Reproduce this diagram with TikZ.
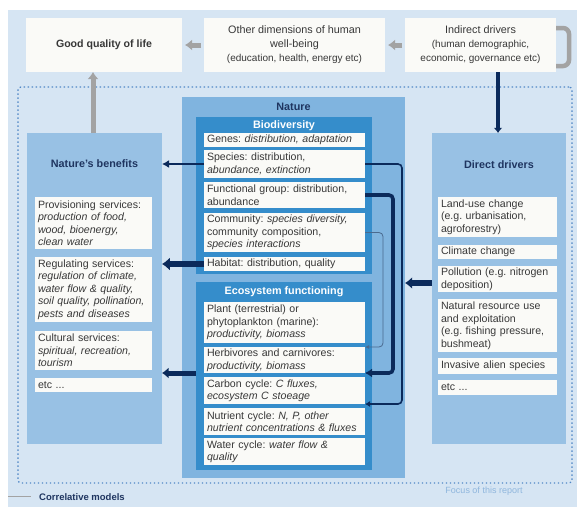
\documentclass[tikz,border=0pt]{standalone}
\usepackage{fontspec}
\setmainfont{Liberation Sans}
\usetikzlibrary{arrows.meta,calc}
\frenchspacing
\definecolor{bgc}{HTML}{D6E5F3}
\definecolor{panelc}{HTML}{98C1E4}
\definecolor{naturec}{HTML}{80B4DF}
\definecolor{innerc}{HTML}{358DCB}
\definecolor{boxw}{HTML}{FAFAF7}
\definecolor{navy}{HTML}{0B2A5B}
\definecolor{greyarr}{HTML}{A3A3A3}
\definecolor{txt}{HTML}{383838}
\definecolor{headc}{HTML}{1F3560}
\definecolor{dotc}{HTML}{4F86C6}
\definecolor{thinc}{HTML}{4A6A8F}
\definecolor{focusc}{HTML}{8FB6DD}
\newcommand\bxfont{\fontsize{10.6}{12.5}\selectfont}
\newcommand\hdfont{\fontsize{10.8}{13}\selectfont\bfseries}
\begin{document}
\begin{tikzpicture}[x=1pt,y=-1pt,
  panel/.style={anchor=north west, inner sep=0pt, outer sep=0pt, draw=none},
  wbox/.style={anchor=north west, fill=boxw, inner xsep=3pt, inner ysep=0pt, outer sep=0pt, align=left, font=\bxfont, text=txt},
  topbox/.style={anchor=north west, fill=boxw, inner sep=0pt, outer sep=0pt, align=center, text=txt},
  head/.style={font=\hdfont, text=headc, inner sep=0pt},
  whead/.style={font=\hdfont, text=white, inner sep=0pt},
  navyarr/.style={draw=navy, -{Latex[length=#1*1.3pt, width=#1*2.2pt]}, line width=#1*1pt},
  greyarr/.style={draw=greyarr, line width=5pt, -{Latex[length=7pt, width=11pt]}},
  link/.style={draw=navy, rounded corners=4pt, -{Latex[length=5pt, width=6pt]}},
]
\useasboundingbox (0,0) rectangle (577,507);
\fill[white] (0,0) rectangle (577,507);
\node[panel, fill=bgc, minimum width=569pt, minimum height=497pt] (bg) at (8,10) {};

% top row
\node[topbox, minimum width=156pt, minimum height=54pt, font=\fontsize{10.6}{13}\selectfont\bfseries] (good) at (26,18) {Good quality of life};
\node[topbox, minimum width=181pt, minimum height=54pt, font=\fontsize{10.8}{14}\selectfont] (other) at (204,18)
  {Other dimensions of human\\well-being\\{\fontsize{10}{14}\selectfont (education, health, energy etc)}};
\node[topbox, minimum width=151pt, minimum height=54pt, font=\fontsize{10.8}{14}\selectfont] (indirect) at (405,18)
  {Indirect drivers\\{\fontsize{10}{14}\selectfont (human demographic,}\\{\fontsize{10}{14}\selectfont economic, governance etc)}};

% dotted frame
\node[panel, draw=dotc, line width=1.2pt, dash pattern=on 1.4pt off 2.6pt, rounded corners=3pt,
  minimum width=554pt, minimum height=396pt] (frame) at (18,87) {};

% panels
\node[panel, fill=panelc, minimum width=135pt, minimum height=311pt] (benefits) at (27,133) {};
\node[panel, fill=panelc, minimum width=134pt, minimum height=311pt] (drivers) at (432,133) {};
\node[panel, fill=naturec, minimum width=223pt, minimum height=381pt] (nature) at (182,97) {};
\node[panel, fill=innerc, minimum width=176pt, minimum height=157pt] (biodiv) at (196,117) {};
\node[panel, fill=innerc, minimum width=176pt, minimum height=188pt] (eco) at (196,282) {};

% headings
\node[head] (hben) at (94.5,164) {Nature's benefits};
\node[head] (hdrv) at (499,165) {Direct drivers};
\node[head] (hnat) at (293.5,107) {Nature};
\node[whead] (hbio) at (284,126) {Biodiversity};
\node[whead] (heco) at (284,292) {Ecosystem functioning};

% benefits boxes
\node[wbox, text width=111pt, minimum height=52pt] (prov) at (35,197)
  {Provisioning services:\\\textit{production of food,}\\\textit{wood, bioenergy,}\\\textit{clean water}};
\node[wbox, text width=111pt, minimum height=65pt] (reg) at (35,257)
  {Regulating services:\\\textit{regulation of climate,}\\\textit{water flow \& quality,}\\\textit{soil quality, pollination,}\\\textit{pests and diseases}};
\node[wbox, text width=111pt, minimum height=39pt] (cult) at (35,331)
  {Cultural services:\\\textit{spiritual, recreation,}\\\textit{tourism}};
\node[wbox, text width=111pt, minimum height=14pt] (etcb) at (35,378) {etc ...};

% biodiversity boxes
\node[wbox, text width=155pt, minimum height=14pt] (genes) at (204,133) {Genes: \textit{distribution, adaptation}};
\node[wbox, text width=155pt, minimum height=28pt] (species) at (204,150) {Species: distribution,\\\textit{abundance, extinction}};
\node[wbox, text width=155pt, minimum height=26pt] (func) at (204,182) {Functional group: distribution,\\abundance};
\node[wbox, text width=155pt, minimum height=39pt] (comm) at (204,213) {Community: \textit{species diversity,}\\community composition,\\\textit{species interactions}};
\node[wbox, text width=155pt, minimum height=14pt] (habitat) at (204,257) {Habitat: distribution, quality};

% ecosystem boxes
\node[wbox, text width=155pt, minimum height=41pt] (plant) at (204,302) {Plant (terrestrial) or\\phytoplankton (marine):\\\textit{productivity, biomass}};
\node[wbox, text width=155pt, minimum height=26pt] (herb) at (204,347) {Herbivores and carnivores:\\\textit{productivity, biomass}};
\node[wbox, text width=155pt, minimum height=27pt] (carbon) at (204,377) {Carbon cycle: \textit{C fluxes,}\\\textit{ecosystem C stoeage}};
\node[wbox, text width=155pt, minimum height=27pt] (nutr) at (204,408) {Nutrient cycle: \textit{N, P, other}\\\textit{nutrient concentrations \& fluxes}};
\node[wbox, text width=155pt, minimum height=27pt] (water) at (204,438) {Water cycle: \textit{water flow \&}\\\textit{quality}};

% drivers boxes
\node[wbox, text width=113pt, minimum height=40pt] (land) at (438,197) {Land-use change\\(e.g. urbanisation,\\agroforestry)};
\node[wbox, text width=113pt, minimum height=14pt] (climate) at (438,245) {Climate change};
\node[wbox, text width=113pt, minimum height=26pt] (poll) at (438,266) {Pollution (e.g. nitrogen\\deposition)};
\node[wbox, text width=113pt, minimum height=53pt] (natres) at (438,299) {Natural resource use\\and exploitation\\(e.g. fishing pressure,\\bushmeat)};
\node[wbox, text width=113pt, minimum height=16pt] (inv) at (438,358) {Invasive alien species};
\node[wbox, text width=113pt, minimum height=15pt] (etcd) at (438,380) {etc ...};

% coordinates for connectors
\coordinate (ga) at (93,0);
\coordinate (ia) at (498,0);
\coordinate (dd) at (432,283);
\coordinate (x1) at (383,0);
\coordinate (x2) at (393,0);
\coordinate (x3) at (402,0);

% grey arrows
\draw[greyarr] (ga |- benefits.north) -- (ga |- good.south);
\draw[greyarr, shorten <=3pt, shorten >=3pt] (other.west) -- (good.east);
\draw[greyarr, shorten <=3pt, shorten >=3pt] (indirect.west) -- (other.west -| other.east);
\draw[draw=greyarr, line width=4.5pt, rounded corners=6pt]
  ($(indirect.north east)+(0,10)$) -- ($(indirect.north east)+(13,10)$) -- ($(indirect.south east)+(13,-6)$) -- ($(indirect.south east)+(0,-6)$);

% navy arrows
\draw[navyarr=4] (ia |- indirect.south) -- (ia |- drivers.north);
\draw[draw=navy, line width=2.4pt, -{Latex[length=7pt, width=8pt]}] (species.west) -- (species.west -| benefits.east);
\draw[navyarr=6] (habitat.west) -- (habitat.west -| benefits.east);
\draw[navyarr=5] (herb.south -| eco.west) -- (herb.south -| benefits.east);
\draw[navyarr=5.5] (dd) -- (dd -| nature.east);

% right-hand links
\draw[link, line width=1.6pt] (species.east) -- (species.east -| x3) -- (x3 |- carbon.south) -- (carbon.south east);
\draw[link, line width=3.6pt, -{Latex[length=7pt, width=9pt]}] (func.east) -- (func.east -| x2) -- (x2 |- herb.south) -- (herb.south east);
\draw[link, draw=thinc, line width=0.8pt, -{Latex[length=4pt, width=4pt]}] (comm.east) -- (comm.east -| x1) -- (x1 |- herb.north) -- (herb.north east);

% legend
\coordinate (l1) at (8,496);
\coordinate (l2) at (31,496);
\draw[greyarr, line width=1pt, -] (l1) -- (l2);
\node[anchor=west, inner sep=0pt, font=\fontsize{9.5}{11}\selectfont\bfseries, text=headc] (corr) at (39,497) {Correlative models};
\node[inner sep=0pt, font=\fontsize{9}{11}\selectfont, text=focusc] (focus) at (484,491) {Focus of this report};
\end{tikzpicture}
\end{document}
